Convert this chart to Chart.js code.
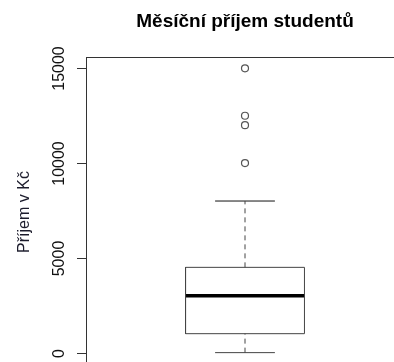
<!DOCTYPE html>
<html>
<head>
    <title>Měsíční příjem studentů</title>
    <script src="https://cdn.jsdelivr.net/npm/chart.js"></script>
    <style>
        html, body { margin: 0; padding: 0; overflow: hidden; background: #fff; }
        #wrap { width: 394px; height: 362px; overflow: hidden; }
    </style>
</head>
<body>
    <div id="wrap">
        <canvas id="myChart" width="420" height="380"></canvas>
    </div>

    <script>
        // data
        const category = 'Příjem studentů';
        const boxStats = [0, 1000, 3000, 4500, 8000];   // low whisker, Q1, median, Q3, high whisker
        const outliers = [10000, 12000, 12500, 15000];
        const yTicks = [0, 5000, 10000, 15000];
        const titleText = 'Měsíční příjem studentů';
        const yTitle = 'Příjem v Kč';

        // style
        const boxHalf = 0.187;
        const capHalf = 0.094;
        const font = '"Liberation Sans", Arial, sans-serif';

        const [lo, q1, med, q3, hi] = boxStats;
        const line = (pts, extra) => Object.assign({
            data: pts, showLine: true, pointRadius: 0, borderColor: '#444',
            borderWidth: 1, fill: false
        }, extra || {});

        const datasets = [
            line([{x: 1 - boxHalf, y: q1}, {x: 1 + boxHalf, y: q1}, {x: 1 + boxHalf, y: q3},
                  {x: 1 - boxHalf, y: q3}, {x: 1 - boxHalf, y: q1}], {label: category}),
            line([{x: 1, y: q3}, {x: 1, y: hi}], {borderDash: [5, 4]}),
            line([{x: 1, y: lo}, {x: 1, y: q1}], {borderDash: [5, 4]}),
            line([{x: 1 - capHalf, y: hi}, {x: 1 + capHalf, y: hi}], {borderColor: '#111'}),
            line([{x: 1 - capHalf, y: lo}, {x: 1 + capHalf, y: lo}]),
            line([{x: 1 - boxHalf, y: med}, {x: 1 + boxHalf, y: med}], {borderColor: '#000', borderWidth: 3.5}),
            {
                data: outliers.map(v => ({x: 1, y: v})),
                pointRadius: 3.5, pointBorderWidth: 1.2,
                pointBorderColor: '#555', pointBackgroundColor: 'rgba(0,0,0,0)'
            }
        ];

        const frame = {
            id: 'frame',
            afterDraw(chart) {
                const ctx = chart.ctx;
                const a = chart.chartArea;
                const ys = chart.scales.y;
                ctx.save();
                ctx.strokeStyle = '#333';
                ctx.lineWidth = 1;
                ctx.strokeRect(Math.round(a.left) + 0.5, Math.round(a.top) + 0.5,
                               Math.round(a.right - a.left), Math.round(a.bottom - a.top));

                ctx.fillStyle = '#111';
                ctx.font = '16px ' + font;
                ctx.textAlign = 'center';
                ctx.textBaseline = 'alphabetic';
                yTicks.forEach(v => {
                    const y = Math.round(ys.getPixelForValue(v)) + 0.5;
                    ctx.beginPath();
                    ctx.moveTo(a.left - 9, y);
                    ctx.lineTo(a.left, y);
                    ctx.stroke();
                    ctx.save();
                    ctx.translate(a.left - 22, y);
                    ctx.rotate(-Math.PI / 2);
                    ctx.fillText(String(v), 0, 0);
                    ctx.restore();
                });

                ctx.save();
                ctx.fillStyle = '#1c1c2c';
                ctx.translate(29, 212);
                ctx.rotate(-Math.PI / 2);
                ctx.fillText(yTitle, 0, 0);
                ctx.restore();

                ctx.fillStyle = '#000';
                ctx.font = 'bold 19px ' + font;
                ctx.fillText(titleText, (a.left + a.right) / 2, 27);
                ctx.restore();
            }
        };

        const ctx = document.getElementById('myChart').getContext('2d');
        const chart = new Chart(ctx, {
            type: 'scatter',
            data: { datasets: datasets },
            options: {
                responsive: false,
                animation: false,
                layout: { padding: { left: 86, top: 57, right: 16, bottom: 16 } },
                plugins: { legend: { display: false }, tooltip: { enabled: false } },
                scales: {
                    x: { type: 'linear', min: 0.5, max: 1.5, display: false },
                    y: { type: 'linear', min: -600, max: 15600, display: false }
                }
            },
            plugins: [frame]
        });
    </script>
</body>
</html>
